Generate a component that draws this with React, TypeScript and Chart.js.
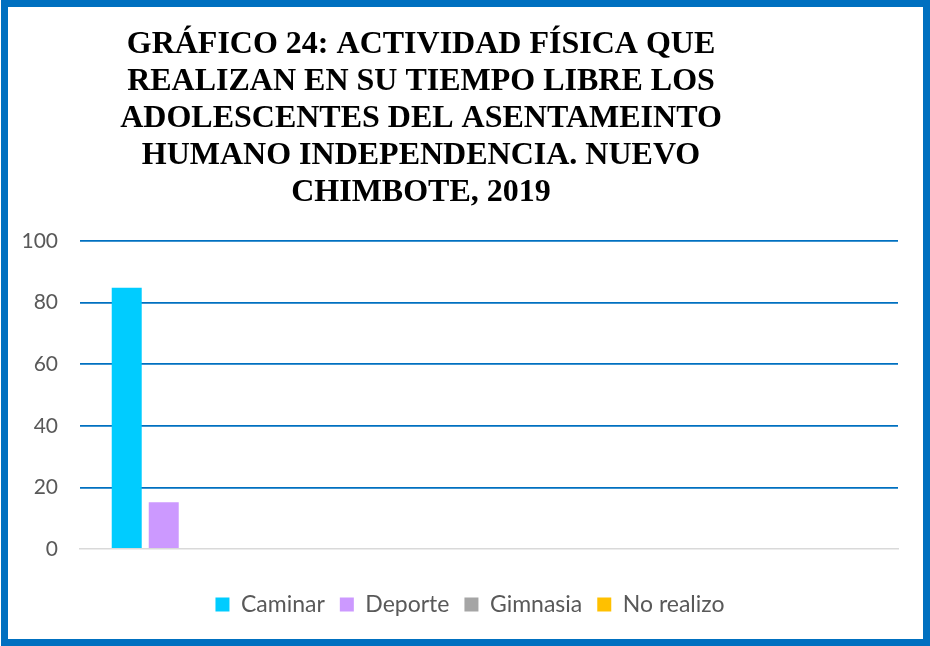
import React, { useEffect, useRef } from "react";
import { Chart, registerables } from "chart.js";

Chart.register(...registerables);

const categories = ["", "", "", ""];
const seriesNames = ["Caminar", "Deporte", "Gimnasia", "No realizo"];
const caminar = [84.8, null, null, null];
const deporte = [15.2, null, null, null];
const gimnasia = [0, null, null, null];
const noRealizo = [0, null, null, null];
const seriesColors = ["#00CCFF", "#CC99FF", "#A5A5A5", "#FFC000"];
const yTicks = [0, 20, 40, 60, 80, 100];
const titleLines = [
  "GRÁFICO 24: ACTIVIDAD FÍSICA QUE",
  "REALIZAN EN SU TIEMPO LIBRE LOS",
  "ADOLESCENTES DEL ASENTAMEINTO",
  "HUMANO INDEPENDENCIA. NUEVO",
  "CHIMBOTE, 2019",
];

const titlePlugin = {
  id: "multiTitle",
  afterDraw(chart: any) {
    const ctx = chart.ctx;
    ctx.save();
    ctx.fillStyle = "#000000";
    ctx.font = "bold 32px 'Liberation Serif', 'Times New Roman', serif";
    ctx.textAlign = "center";
    ctx.textBaseline = "alphabetic";
    titleLines.forEach((line, i) => {
      ctx.fillText(line, 421, 53 + i * 37);
    });
    ctx.restore();
  },
};

const bgPlugin = {
  id: "bg",
  beforeDraw(chart: any) {
    const ctx = chart.ctx;
    ctx.save();
    ctx.fillStyle = "#FFFFFF";
    ctx.fillRect(0, 0, chart.width, chart.height);
    ctx.restore();
  },
};

const legendShiftPlugin = {
  id: "legendShift",
  afterLayout(chart: any) {
    const lg = chart.legend;
    if (lg) {
      lg.left += 21;
      lg.right += 21;
    }
  },
};

export default function App() {
  const ref = useRef<HTMLCanvasElement>(null);
  useEffect(() => {
    if (!ref.current) return;
    const data = [caminar, deporte, gimnasia, noRealizo];
    const chart = new Chart(ref.current, {
      type: "bar",
      data: {
        labels: categories,
        datasets: seriesNames.map((name, i) => ({
          label: name,
          data: data[i] as any,
          backgroundColor: seriesColors[i],
          borderWidth: 0,
          categoryPercentage: 0.724,
          barPercentage: 0.81,
        })),
      },
      options: {
        animation: false,
        responsive: false,
        maintainAspectRatio: false,
        layout: { padding: { top: 241, left: 0, right: 32, bottom: 20 } },
        plugins: {
          title: { display: false },
          tooltip: { enabled: false },
          legend: {
            position: "bottom",
            labels: {
              boxWidth: 14,
              boxHeight: 14,
              padding: 15,
              color: "#595959",
              font: { family: "Lato, 'Open Sans', sans-serif", size: 23 },
            },
          },
        },
        scales: {
          x: {
            grid: { display: false, drawTicks: false },
            border: { display: true, color: "#D9D9D9", width: 1.5 },
            ticks: { display: false },
            afterFit: (s: any) => {
              s.height = 29;
            },
          },
          y: {
            min: 0,
            max: 100,
            afterBuildTicks: (s: any) => {
              s.ticks = yTicks.map((v) => ({ value: v }));
            },
            grid: {
              drawTicks: false,
              color: (c: any) => (c.tick && c.tick.value === 0 ? "rgba(0,0,0,0)" : "#0070C0"),
              lineWidth: 1.8,
            },
            border: { display: false },
            ticks: {
              padding: 22,
              color: "#595959",
              font: { family: "Lato, 'Open Sans', sans-serif", size: 21 },
            },
            afterFit: (s: any) => {
              s.width = 80;
            },
          },
        },
      },
      plugins: [bgPlugin, titlePlugin, legendShiftPlugin],
    });
    return () => chart.destroy();
  }, []);
  return (
    <div style={{ position: "fixed", left: 0, top: 0, width: 930, height: 646, background: "#fff" }}>
      <canvas ref={ref} width={930} height={646} style={{ display: "block", width: 930, height: 646 }} />
      <div
        style={{
          position: "absolute",
          left: 1,
          top: 0,
          width: 929,
          height: 646,
          boxSizing: "border-box",
          border: "7px solid #0070C0",
          pointerEvents: "none",
        }}
      />
    </div>
  );
}
